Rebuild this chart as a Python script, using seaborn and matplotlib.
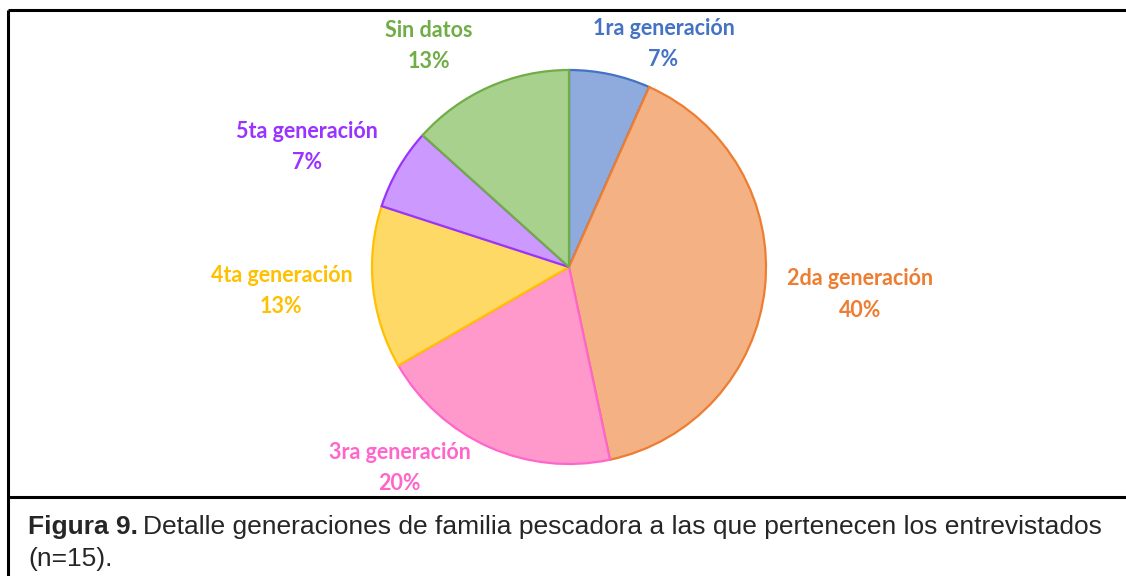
import matplotlib
matplotlib.use("Agg")
import matplotlib.pyplot as plt
import seaborn as sns

# data (n=15 interviewees)
categories = ["1ra generación", "2da generación", "3ra generación",
              "4ta generación", "5ta generación", "Sin datos"]
counts = [1, 6, 3, 2, 1, 2]
pct_labels = ["7%", "40%", "20%", "13%", "7%", "13%"]

fill_colors = ["#8FAADC", "#F4B183", "#FF99CC", "#FFD966", "#CC99FF", "#A9D18E"]
edge_colors = ["#4472C4", "#ED7D31", "#FF66CC", "#FFC000", "#9933FF", "#70AD47"]

# label offsets from pie centre, in radius units (Excel "best fit" placement)
label_offsets = [(0.48, 1.13), (1.48, -0.14), (-0.86, -1.02),
                 (-1.46, -0.12), (-1.33, 0.61), (-0.71, 1.12)]

sns.set_style("white")
plt.rcParams['font.family'] = ['Lato', 'DejaVu Sans']

W, H = 1126, 576
fig = plt.figure(figsize=(W / 100, H / 100), dpi=100)
ax = fig.add_axes([0, 0, 1, 1])

cx, cy, R = 569, H - 267, 197
wedges, _ = ax.pie(counts, colors=fill_colors, startangle=90, counterclock=False,
                   center=(cx, cy), radius=R, frame=True,
                   wedgeprops=dict(linewidth=1.6))
for w, ec in zip(wedges, edge_colors):
    w.set_edgecolor(ec)
ax.set_xlim(0, W)
ax.set_ylim(0, H)
ax.set_aspect("equal")
ax.axis("off")

for name, pct, (dx, dy), col in zip(categories, pct_labels, label_offsets, edge_colors):
    ax.text(cx + dx * R, cy + dy * R, f"{name}\n{pct}", ha="center", va="center",
            color=col, fontsize=15.5, fontweight="bold", linespacing=1.6)

# frame lines around chart and caption
line_kw = dict(color="black", linewidth=2.2, solid_capstyle="butt")
ax.plot([8, W], [H - 10, H - 10], **line_kw)
ax.plot([8, 8], [0, H - 10], **line_kw)
ax.plot([8, W], [H - 497, H - 497], **line_kw)

cap_font = ['Liberation Sans', 'DejaVu Sans']
cap_size = 19
t = ax.text(28, H - 534, "Figura 9.", fontsize=cap_size, fontweight="bold",
            family=cap_font, va="baseline")
fig.canvas.draw()
bb = t.get_window_extent()
ax.text(bb.x1 + 5, H - 534, "Detalle generaciones de familia pescadora a las que pertenecen los entrevistados",
        fontsize=cap_size, family=cap_font, va="baseline")
ax.text(28, H - 566, "(n=15).", fontsize=cap_size, family=cap_font, va="baseline")

fig.savefig("out.png", dpi=100)
